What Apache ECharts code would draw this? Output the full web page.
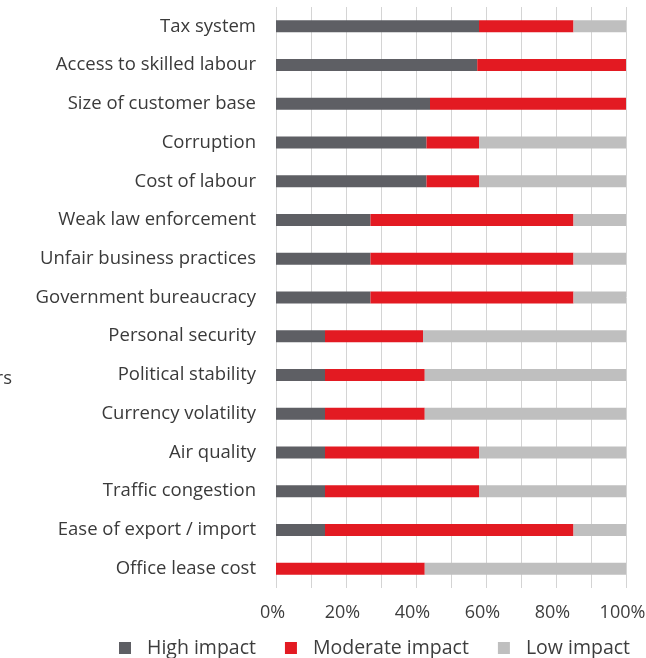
<!DOCTYPE html>
<html>
<head>
<meta charset="utf-8">
<script src="https://cdn.jsdelivr.net/npm/echarts@6/dist/echarts.min.js"></script>
<style>
  html, body { margin: 0; padding: 0; background: #fff; }
  #chart { width: 646px; height: 658px; }
</style>
</head>
<body>
<div id="chart"></div>
<script>
// Business environment factors, share of respondents by impact level (%)
const categories = [
  'Tax system', 'Access to skilled labour', 'Size of customer base', 'Corruption',
  'Cost of labour', 'Weak law enforcement', 'Unfair business practices',
  'Government bureaucracy', 'Personal security', 'Political stability',
  'Currency volatility', 'Air quality', 'Traffic congestion',
  'Ease of export / import', 'Office lease cost'
];
const highImpact     = [58, 57.5, 44, 43, 43, 27, 27, 27, 14, 14, 14, 14, 14, 14, 0];
const moderateImpact = [27, 42.5, 56, 15, 15, 58, 58, 58, 28, 28.5, 28.5, 44, 44, 71, 42.5];
const lowImpact      = [15, 0, 0, 42, 42, 15, 15, 15, 58, 57.5, 57.5, 42, 42, 15, 57.5];
const seriesNames = ['High impact', 'Moderate impact', 'Low impact'];
const seriesColors = ['#5e5f64', '#e31a22', '#bfbfbf'];

const font = '"Open Sans", "Noto Sans", sans-serif';
const chart = echarts.init(document.getElementById('chart'));

const values = [highImpact, moderateImpact, lowImpact];
chart.setOption({
  animation: false,
  textStyle: { fontFamily: font },
  grid: {
    left: 276, right: 20, top: 7, bottom: 70,
    containLabel: false, outerBoundsMode: 'none'
  },
  legend: {
    top: 633,
    left: 114,
    itemWidth: 12,
    itemHeight: 12,
    itemGap: 29,
    icon: 'rect',
    textStyle: { fontFamily: font, fontSize: 19.5, color: '#3d3d3d', padding: [0, 0, 0, 11] },
    data: seriesNames
  },
  xAxis: {
    type: 'value',
    min: 0, max: 100, interval: 10,
    axisLine: { show: false },
    axisTick: { show: false },
    // light vertical gridlines every 10%, behind the bars
    splitLine: { show: true, lineStyle: { color: '#d4d4d4', width: 1, type: 'solid' } },
    axisLabel: {
      fontSize: 18, color: '#3d3d3d', margin: 16,
      padding: [0, 7, 0, 0],
      formatter: v => (v % 20 === 0 ? v + '%' : '')
    }
  },
  yAxis: {
    type: 'category',
    inverse: true,
    data: categories,
    axisLine: { show: false },
    axisTick: { show: false },
    splitLine: { show: false },
    axisLabel: { fontSize: 18.5, color: '#3a3a3a', margin: 20 }
  },
  graphic: [{
    type: 'text',
    right: 634,
    top: 369,
    style: { text: 'Factors', font: '18.5px ' + font, fill: '#3a3a3a', textAlign: 'right' }
  }],
  series: seriesNames.map((name, i) => ({
    name,
    type: 'bar',
    stack: 'impact',
    barWidth: 12,
    itemStyle: { color: seriesColors[i] },
    data: values[i]
  }))
});
</script>
</body>
</html>
